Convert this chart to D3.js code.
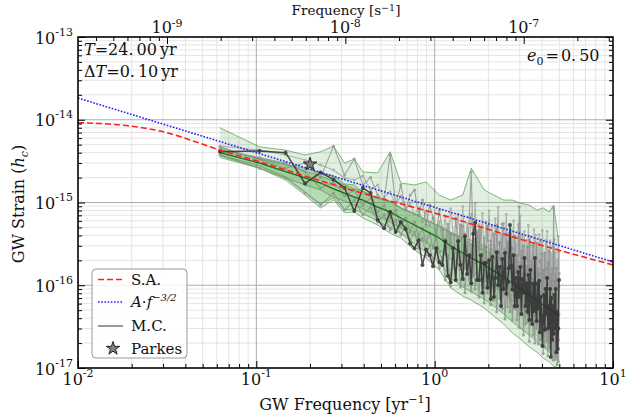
<!DOCTYPE html>
<html>
<head>
<meta charset="utf-8">
<script src="https://cdn.jsdelivr.net/npm/d3@7"></script>
<style>
  body { margin: 0; background: #fff; }
  svg { display: block; }
  text { font-family: "DejaVu Serif", serif; fill: #111; }
</style>
</head>
<body>
<svg id="chart" width="626" height="420"></svg>
<script>
// run parameters shown in the plot
const T = 24.0;     // yr
const dT = 0.10;    // yr
const e0 = 0.50;
const UNIT = 1e-16; // all strain arrays below are in units of 1e-16

// harmonics of the 24 yr baseline, up to the 5 / yr Nyquist frequency
const freqs = d3.range(119).map(k => (k + 1.5) / T);

// one highlighted Monte Carlo realisation (black)
const mcBlack = [41, 42, 40, 17, 23, 19, 15, 7.9, 15, 13,
  6.2, 4.9, 7.7, 4.4, 5.8, 4.8, 3.2, 2.8, 3.5, 1.76,
  2.7, 2.3, 1.7, 2.8, 1.9, 1.76, 3.4, 1.29, 1.09, 2.8,
  1.16, 3.4, 1.76, 1.19, 3.9, 1.37, 2.3, 1.06, 4.2, 5.7,
  1.16, 1.16, 2.3, 0.81, 1.86, 1.86, 0.93, 2.0, 0.68, 2.2,
  0.72, 1.22, 2.5, 1.0, 1.66, 0.56, 2.08, 0.9, 2.45, 0.79,
  1.09, 1.61, 5.35, 1.71, 0.88, 2.3, 0.56, 1.22, 0.56, 1.45,
  0.72, 1.66, 0.45, 1.19, 0.81, 2.14, 0.56, 1.06, 0.48, 1.33,
  0.38, 1.53, 0.65, 0.34, 1.04, 0.49, 2.14, 0.54, 0.37, 1.04,
  0.52, 1.13, 0.27, 0.72, 0.41, 0.185, 0.41, 0.76, 0.29, 0.9,
  0.45, 1.22, 0.3, 0.56, 0.32, 0.9, 0.136, 0.7, 0.22, 0.56,
  0.26, 0.76, 0.3, 0.9, 0.155, 0.48, 0.17, 0.3, 1.16];

// other realisations (grey)
const mcGrayA = [47, 33, 26, 30, 20, 48, 21.5, 33.5, 16.3, 20,
  12.3, 10.7, 37.5, 9.3, 16.3, 8.1, 12.3, 14.2, 7.1, 10.7,
  5.35, 9.3, 6.5, 4.05, 8.1, 4.66, 2.39, 5.5, 3.07, 1.91,
  6.5, 3.07, 5.35, 1.91, 4.16, 2.26, 6.7, 23.4, 2.45, 1.86,
  4.4, 2.74, 5.06, 1.53, 3.72, 2.08, 5.2, 1.81, 3.07, 1.26,
  4.16, 2.08, 5.35, 1.53, 3.33, 1.33, 5.5, 1.71, 2.74, 1.13,
  3.33, 1.76, 3.83, 0.93, 2.82, 1.4, 3.94, 1.16, 2.32, 1.01,
  8.8, 1.19, 2.6, 0.83, 2.98, 1.33, 2.14, 0.74, 2.9, 1.19,
  3.52, 0.85, 1.76, 0.93, 2.98, 0.72, 1.91, 0.93, 3.24, 0.81,
  1.61, 0.55, 1.96, 0.98, 2.39, 0.65, 1.53, 0.74, 2.45, 0.81,
  1.61, 0.52, 1.86, 0.93, 2.52, 0.61, 1.37, 0.5, 1.57, 0.81,
  8.6, 0.58, 1.33, 0.4, 1.61, 0.61, 1.1, 0.45, 2.6];

const mcGrayB = [37.5, 26, 19.8, 13, 9.3, 13, 8.1, 10.7, 7.1, 8.8,
  5.8, 7.1, 4.66, 6.15, 4.05, 5.2, 3.52, 4.4, 2.8, 3.7,
  2.32, 3.0, 1.91, 2.67, 1.61, 2.2, 1.16, 2.32, 0.98, 1.81,
  1.19, 2.52, 0.95, 1.81, 0.81, 2.02, 1.16, 0.85, 2.26, 0.9,
  1.45, 0.72, 1.86, 0.93, 0.61, 1.81, 0.81, 1.29, 0.58, 1.86,
  0.66, 1.06, 0.48, 1.33, 0.7, 1.49, 0.52, 1.1, 0.39, 0.93,
  0.55, 1.45, 0.48, 0.76, 0.38, 1.06, 0.54, 1.33, 0.38, 0.79,
  0.31, 0.88, 0.44, 0.98, 0.25, 0.63, 0.34, 0.95, 0.36, 0.65,
  0.21, 0.76, 0.37, 0.98, 0.25, 0.48, 0.2, 0.63, 0.3, 0.68,
  0.195, 0.46, 0.22, 0.72, 0.23, 0.44, 0.15, 0.48, 0.18, 0.56,
  0.21, 0.34, 0.14, 0.46, 0.175, 0.52, 0.195, 0.144, 0.38, 0.125,
  0.33, 0.125, 0.39, 0.13, 0.265, 0.11, 0.3, 0.12, 0.45];

const mcGrayC = [43, 35, 30, 23.4, 15, 17.7, 12, 14.2, 9.3, 11.3,
  7.7, 9.3, 6.5, 8.1, 5.2, 6.5, 4.5, 5.8, 3.94, 4.9,
  3.24, 4.27, 2.82, 3.72, 2.52, 2.02, 3.62, 1.53, 4.16, 2.08,
  1.29, 3.62, 1.57, 5.2, 1.57, 2.67, 1.22, 3.07, 1.29, 3.62,
  1.57, 4.66, 1.13, 2.39, 0.93, 2.9, 1.53, 0.95, 3.42, 1.22,
  2.2, 0.74, 2.39, 1.01, 3.15, 1.13, 0.85, 2.39, 0.95, 4.16,
  0.83, 1.57, 0.66, 2.2, 0.9, 1.53, 0.52, 2.26, 0.93, 1.66,
  0.59, 1.4, 0.65, 2.26, 0.68, 0.5, 1.53, 0.72, 1.71, 0.44,
  1.06, 0.56, 1.96, 0.59, 1.1, 0.37, 1.16, 0.44, 0.85, 0.38,
  1.4, 0.54, 0.98, 0.3, 1.1, 0.44, 1.49, 0.34, 0.72, 0.29,
  0.93, 0.41, 1.04, 0.22, 0.68, 0.32, 1.13, 0.34, 0.66, 0.235,
  0.79, 0.3, 1.13, 0.26, 0.52, 0.195, 0.74, 0.22, 1.4];

const mcGrayD = [48, 43, 37.5, 32.6, 28.4, 24.7, 19.8, 18.7, 20.9, 14.2,
  16.3, 11.3, 13.4, 9.3, 11.9, 8.1, 9.9, 7.1, 8.6, 5.8,
  7.7, 5.2, 6.5, 4.4, 5.8, 3.52, 6.9, 2.85, 8.4, 4.08,
  2.43, 7.3, 3.5, 8.9, 2.9, 5.6, 2.39, 7.2, 3.43, 9.8,
  2.54, 5.45, 2.77, 7.4, 1.93, 5.8, 3.47, 7.9, 2.43, 5.2,
  1.89, 6.4, 2.58, 8.7, 2.14, 4.1, 1.96, 5.6, 2.67, 7.2,
  2.09, 4.25, 1.72, 4.65, 2.22, 6.0, 1.47, 3.73, 1.99, 5.4,
  2.3, 6.9, 1.61, 3.88, 1.76, 4.45, 1.37, 3.48, 1.97, 5.3,
  1.54, 3.9, 1.2, 3.06, 1.63, 4.66, 1.88, 4.07, 1.24, 3.17,
  1.03, 4.08, 1.85, 3.37, 1.22, 4.59, 1.41, 2.43, 1.23, 3.49,
  1.5, 4.49, 1.04, 2.66, 1.35, 3.43, 0.94, 2.4, 1.14, 2.92,
  1.39, 3.55, 0.97, 2.48, 0.8, 2.05, 1.16, 3.9, 0.96];

// percentile bands of the M.C. ensemble, sampled at these harmonics
const bandK = [0, 1, 2, 3, 4, 5, 6, 7, 8, 10, 12, 14, 17, 20, 24, 28, 33, 37, 44, 50, 57, 64, 70, 80, 88, 96, 104, 110, 118];
const outerHi = [80, 47, 43, 37.5, 41, 48, 30, 33.5, 23.4, 22.8, 41, 17.2, 16.3, 17.7, 12.3, 10.7, 12.3, 26, 14.2, 12.3, 10.7, 10.7, 9.9, 9.3, 8.1, 8.6, 7.7, 9.3, 3.07];
const outerLo = [35, 26, 18.7, 12.3, 8.6, 10.7, 7.5, 7.7, 6.5, 5.35, 4.27, 3.72, 2.67, 2.14, 1.53, 0.93, 0.74, 0.66, 0.53, 0.425, 0.34, 0.265, 0.23, 0.18, 0.156, 0.132, 0.118, 0.105, 0.1];
const midHi = [45.5, 33.5, 28.4, 26, 22.8, 20.9, 16.8, 16.3, 13.4, 11.3, 10.4, 8.6, 7.3, 6.15, 5.2, 4.4, 3.72, 3.52, 2.98, 2.67, 2.39, 2.14, 1.91, 1.61, 1.45, 1.33, 1.22, 1.1, 0.88];
const midLo = [37.5, 27.6, 20.4, 13.4, 9.6, 11.3, 8.1, 8.4, 7.3, 6.0, 4.9, 4.27, 3.15, 2.52, 1.91, 1.22, 0.95, 0.83, 0.68, 0.56, 0.45, 0.36, 0.31, 0.25, 0.21, 0.18, 0.156, 0.144, 0.125];
const innerHi = [43.5, 34.4, 29.2, 24, 20.9, 18.2, 16.3, 14.6, 13.8, 11.3, 10.2, 8.6, 7.3, 6.15, 5.2, 4.27, 3.62, 3.15, 2.67, 2.32, 1.96, 1.71, 1.49, 1.26, 1.1, 0.95, 0.85, 0.79, 0.7];
const innerLo = [36.7, 26.1, 19.8, 16.3, 14.2, 11.6, 10.4, 9.3, 8.4, 6.9, 5.8, 4.9, 3.94, 3.33, 2.67, 2.08, 1.66, 1.45, 1.16, 0.95, 0.81, 0.66, 0.577, 0.46, 0.4, 0.35, 0.31, 0.29, 0.26];
const median = [40, 30, 23.6, 19.8, 17.2, 14.6, 13, 11.6, 10.7, 8.8, 7.7, 6.5, 5.35, 4.5, 3.72, 2.98, 2.45, 2.14, 1.76, 1.49, 1.26, 1.06, 0.93, 0.76, 0.66, 0.577, 0.52, 0.48, 0.425];

// semi-analytic spectrum (red dashed)
const saFreq = [0.01, 0.0133, 0.0196, 0.0289, 0.0483, 0.0625, 0.1047, 0.2125, 0.4054, 1.134, 3.17, 10];
const saStrain = [92, 90, 84, 73, 52, 43, 31, 19.2, 12.7, 6.9, 3.5, 1.76];

// power law (blue dotted), end points
const plFreq = [0.01, 10];
const plStrain = [183, 1.91];

// Parkes limit
const parkes = { f: 0.2, h: 29 };

// ---------------------------------------------------------------
const m = { l: 78, r: 613, t: 37, b: 368 };
const x = d3.scaleLog().domain([1e-2, 1e1]).range([m.l, m.r]);
const y = d3.scaleLog().domain([1e-17, 1e-13]).range([m.b, m.t]);
const yrToHz = 1 / (365.25 * 86400);
const xTop = d3.scaleLog().domain(x.domain().map(f => f * yrToHz)).range([m.l, m.r]);

const svg = d3.select('#chart');
svg.append('defs').append('clipPath').attr('id', 'plotclip')
  .append('rect').attr('x', m.l).attr('y', m.t).attr('width', m.r - m.l).attr('height', m.b - m.t);

const isMajor = v => Math.abs(Math.log10(v) - Math.round(Math.log10(v))) < 1e-6;

// grid
const grid = svg.append('g');
const xt = x.ticks(), yt = y.ticks();
xt.filter(v => !isMajor(v)).forEach(v => grid.append('line')
  .attr('x1', x(v)).attr('x2', x(v)).attr('y1', m.t).attr('y2', m.b)
  .attr('stroke', '#e4e4e4').attr('stroke-width', 1));
yt.filter(v => !isMajor(v)).forEach(v => grid.append('line')
  .attr('y1', y(v)).attr('y2', y(v)).attr('x1', m.l).attr('x2', m.r)
  .attr('stroke', '#e4e4e4').attr('stroke-width', 1));
xt.filter(isMajor).forEach(v => grid.append('line')
  .attr('x1', x(v)).attr('x2', x(v)).attr('y1', m.t).attr('y2', m.b)
  .attr('stroke', '#adadad').attr('stroke-width', 1));
yt.filter(isMajor).forEach(v => grid.append('line')
  .attr('y1', y(v)).attr('y2', y(v)).attr('x1', m.l).attr('x2', m.r)
  .attr('stroke', '#adadad').attr('stroke-width', 1));

const plot = svg.append('g').attr('clip-path', 'url(#plotclip)');

// bands
function bandData(hi, lo) {
  return bandK.map((k, i) => ({ f: freqs[k], hi: hi[i] * UNIT, lo: lo[i] * UNIT }));
}
const area = d3.area().x(d => x(d.f)).y0(d => y(d.lo)).y1(d => y(d.hi));
const edge = d3.line().x(d => x(d.f)).y(d => y(d.v));
[[outerHi, outerLo, 0.16], [midHi, midLo, 0.24], [innerHi, innerLo, 0.22]].forEach(([hi, lo, op]) => {
  const data = bandData(hi, lo);
  plot.append('path').attr('d', area(data)).attr('fill', '#3f9a3a').attr('fill-opacity', op);
  [hi, lo].forEach(arr => plot.append('path')
    .attr('d', edge(bandK.map((k, i) => ({ f: freqs[k], v: arr[i] * UNIT }))))
    .attr('fill', 'none').attr('stroke', '#4c9b47').attr('stroke-opacity', 0.7).attr('stroke-width', 1));
});

// M.C. realisations
function drawMC(vals, color, w, r, op) {
  const pts = vals.map((v, k) => ({ f: freqs[k], v: v * UNIT }));
  const g = plot.append('g').attr('opacity', op);
  g.append('path').attr('d', edge(pts)).attr('fill', 'none')
    .attr('stroke', color).attr('stroke-width', w).attr('stroke-linejoin', 'round');
  g.selectAll('circle').data(pts).enter().append('circle')
    .attr('cx', d => x(d.f)).attr('cy', d => y(d.v)).attr('r', r).attr('fill', color);
}
drawMC(mcGrayD, '#9a9a9a', 1.1, 1.4, 0.7);
drawMC(mcGrayA, '#8e8e8e', 1.1, 1.5, 0.8);
drawMC(mcGrayC, '#8e8e8e', 1.1, 1.5, 0.8);
drawMC(mcGrayB, '#8e8e8e', 1.1, 1.5, 0.8);

// median
plot.append('path')
  .attr('d', edge(bandK.map((k, i) => ({ f: freqs[k], v: median[i] * UNIT }))))
  .attr('fill', 'none').attr('stroke', '#1d6b1d').attr('stroke-width', 1.3);

drawMC(mcBlack, '#2e2e2e', 1.5, 2, 0.85);

// semi-analytic and power law
const curve = d3.line().x(d => x(d[0])).y(d => y(d[1])).curve(d3.curveMonotoneX);
plot.append('path').attr('d', curve(saFreq.map((f, i) => [f, saStrain[i] * UNIT])))
  .attr('fill', 'none').attr('stroke', '#ff2020').attr('stroke-width', 1.6).attr('stroke-dasharray', '6,3');
plot.append('path').attr('d', curve(plFreq.map((f, i) => [f, plStrain[i] * UNIT])))
  .attr('fill', 'none').attr('stroke', '#2020ff').attr('stroke-width', 1.6).attr('stroke-dasharray', '1.6,1.6');

// Parkes star
const star = d3.symbol().type(d3.symbolStar).size(55);
plot.append('path').attr('d', star())
  .attr('transform', `translate(${x(parkes.f)},${y(parkes.h * UNIT)})`)
  .attr('fill', '#808080').attr('stroke', '#222').attr('stroke-width', 1);

// ticks (inward)
function ticks(axisFn, scale, vals, len, tr) {
  const g = svg.append('g').attr('transform', tr)
    .call(axisFn(scale).tickValues(vals).tickSize(-len).tickSizeOuter(0).tickFormat(''));
  g.select('.domain').remove();
  g.selectAll('line').attr('stroke', '#000').attr('stroke-width', 1);
}
ticks(d3.axisBottom, x, xt.filter(isMajor), 7, `translate(0,${m.b})`);
ticks(d3.axisBottom, x, xt.filter(v => !isMajor(v)), 4, `translate(0,${m.b})`);
ticks(d3.axisLeft, y, yt.filter(isMajor), 7, `translate(${m.l},0)`);
ticks(d3.axisLeft, y, yt.filter(v => !isMajor(v)), 4, `translate(${m.l},0)`);
ticks(d3.axisRight, y, yt.filter(isMajor), 7, `translate(${m.r},0)`);
ticks(d3.axisRight, y, yt.filter(v => !isMajor(v)), 4, `translate(${m.r},0)`);
const htk = xTop.ticks();
ticks(d3.axisTop, xTop, htk.filter(isMajor), 7, `translate(0,${m.t})`);
ticks(d3.axisTop, xTop, htk.filter(v => !isMajor(v)), 4, `translate(0,${m.t})`);

svg.append('rect').attr('x', m.l).attr('y', m.t).attr('width', m.r - m.l).attr('height', m.b - m.t)
  .attr('fill', 'none').attr('stroke', '#000').attr('stroke-width', 1.5);

// tick labels 10^n
function powLabel(px, py, v, anchor, sup) {
  const t = svg.append('text').attr('x', px).attr('y', py).attr('text-anchor', anchor).attr('font-size', 16);
  t.append('tspan').text('10');
  t.append('tspan').attr('dy', -sup).attr('font-size', 11).text(String(Math.round(Math.log10(v))));
}
xt.filter(isMajor).forEach(v => powLabel(x(v), 385, v, 'middle', 8));
yt.filter(isMajor).forEach(v => powLabel(73, y(v) + 6.5, v, 'end', 8));
htk.filter(isMajor).forEach(v => powLabel(xTop(v), 33, v, 'middle', 6));

// axis titles
const xl = svg.append('text').attr('x', 345).attr('y', 410).attr('text-anchor', 'middle').attr('font-size', 16);
xl.append('tspan').text('GW Frequency [yr');
xl.append('tspan').attr('dy', -7).attr('font-size', 11).text('\u22121');
xl.append('tspan').attr('dy', 7).text(']');

const tl = svg.append('text').attr('x', 346).attr('y', 15).attr('text-anchor', 'middle').attr('font-size', 13.5);
tl.append('tspan').text('Frequency [s');
tl.append('tspan').attr('dy', -4.5).attr('font-size', 9.5).text('\u22121');
tl.append('tspan').attr('dy', 4.5).text(']');

const yl = svg.append('text').attr('transform', 'translate(24,204) rotate(-90)')
  .attr('text-anchor', 'middle').attr('font-size', 16);
yl.append('tspan').text('GW Strain (');
yl.append('tspan').attr('font-style', 'italic').text('h');
yl.append('tspan').attr('font-style', 'italic').attr('font-size', 11).attr('dy', 4).text('c');
yl.append('tspan').attr('dy', -4).text(')');

// annotations
const a1 = svg.append('text').attr('x', 84).attr('y', 55).attr('font-size', 16);
a1.append('tspan').attr('font-style', 'italic').text('T');
a1.append('tspan').text('=' + T.toFixed(2).slice(0, 3));
a1.append('tspan').attr('dx', 3).text(T.toFixed(2).slice(3));
a1.append('tspan').attr('dx', 3).text('yr');

const a2 = svg.append('text').attr('x', 84).attr('y', 77).attr('font-size', 16);
a2.append('tspan').text('\u0394');
a2.append('tspan').attr('font-style', 'italic').text('T');
a2.append('tspan').text('=' + dT.toFixed(2).slice(0, 2));
a2.append('tspan').attr('dx', 3).text(dT.toFixed(2).slice(2));
a2.append('tspan').attr('dx', 3).text('yr');

const a3 = svg.append('text').attr('x', 527).attr('y', 61).attr('font-size', 16);
a3.append('tspan').attr('font-style', 'italic').text('e');
a3.append('tspan').attr('font-size', 11).attr('dy', 4).text('0');
a3.append('tspan').attr('dy', -4).attr('dx', 2).text('=');
a3.append('tspan').attr('dx', 2).text(e0.toFixed(2).slice(0, 2));
a3.append('tspan').attr('dx', 3).text(e0.toFixed(2).slice(2));

// legend
const lg = svg.append('g');
lg.append('rect').attr('x', 92).attr('y', 269).attr('width', 95).attr('height', 89).attr('rx', 4)
  .attr('fill', '#fff').attr('fill-opacity', 0.85).attr('stroke', '#999').attr('stroke-width', 1);
const rows = [279.5, 302, 326, 348.5];
lg.append('line').attr('x1', 98).attr('x2', 123).attr('y1', rows[0]).attr('y2', rows[0])
  .attr('stroke', '#ff2020').attr('stroke-width', 1.6).attr('stroke-dasharray', '6,3');
lg.append('line').attr('x1', 98).attr('x2', 123).attr('y1', rows[1]).attr('y2', rows[1])
  .attr('stroke', '#2020ff').attr('stroke-width', 1.6).attr('stroke-dasharray', '1.6,1.6');
lg.append('line').attr('x1', 98).attr('x2', 123).attr('y1', rows[2]).attr('y2', rows[2])
  .attr('stroke', '#777').attr('stroke-width', 1.5);
lg.append('path').attr('d', star()).attr('transform', `translate(113,${rows[3]})`)
  .attr('fill', '#808080').attr('stroke', '#222').attr('stroke-width', 1);
lg.append('text').attr('x', 131).attr('y', rows[0] + 5).attr('font-size', 15).text('S.A.');
const l2 = lg.append('text').attr('x', 131).attr('y', rows[1] + 5).attr('font-size', 15);
l2.append('tspan').attr('font-style', 'italic').text('A');
l2.append('tspan').text('\u00b7');
l2.append('tspan').attr('font-style', 'italic').text('f');
l2.append('tspan').attr('dy', -6).attr('font-size', 10).attr('font-style', 'italic').text('\u22123/2');
lg.append('text').attr('x', 131).attr('y', rows[2] + 5).attr('font-size', 15).text('M.C.');
lg.append('text').attr('x', 131).attr('y', rows[3] + 5).attr('font-size', 15).text('Parkes');
</script>
</body>
</html>
